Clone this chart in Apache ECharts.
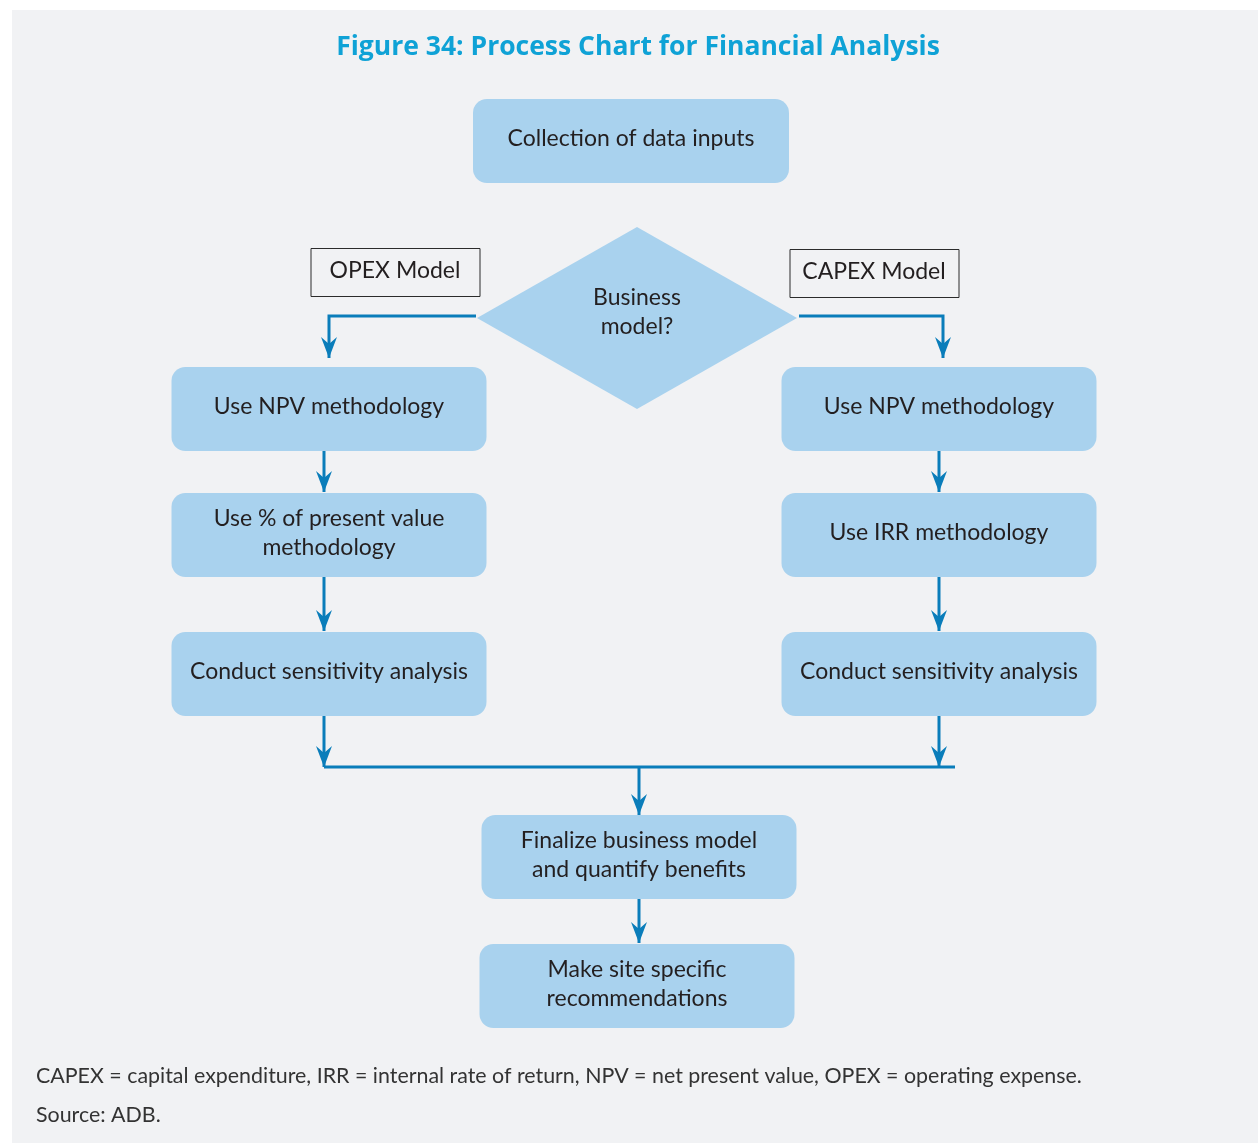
<!DOCTYPE html>
<html>
<head>
<meta charset="utf-8">
<title>Process Chart for Financial Analysis</title>
<script src="https://cdn.jsdelivr.net/npm/echarts@6/dist/echarts.min.js"></script>
<style>
  html, body { margin: 0; padding: 0; background: #ffffff; }
  #main { width: 1258px; height: 1143px; }
</style>
</head>
<body>
<div id="main"></div>
<script>
var myChart = echarts.init(document.getElementById('main'));

// texts of the chart
var figureTitle = 'Figure 34: Process Chart for Financial Analysis';
var stepNames = [
    'Collection of data inputs',
    'Business\nmodel?',
    'Use NPV methodology',
    'Use % of present value\nmethodology',
    'Conduct sensitivity analysis',
    'Use NPV methodology',
    'Use IRR methodology',
    'Conduct sensitivity analysis',
    'Finalize business model\nand quantify benefits',
    'Make site specific\nrecommendations'
];
var branchNames = ['OPEX Model', 'CAPEX Model'];
var footNotes = [
    'CAPEX = capital expenditure, IRR = internal rate of return, NPV = net present value, OPEX = operating expense.',
    'Source: ADB.'
];

// layout on a 1258 x 1143 grid: centre x, centre y, width, height
var stepLayout = [
    [631, 141, 316, 84],
    [637, 318, 320, 182],
    [329, 409, 315, 84],
    [329, 535, 315, 84],
    [329, 674, 315, 84],
    [939, 409, 315, 84],
    [939, 535, 315, 84],
    [939, 674, 315, 84],
    [639, 857, 315, 84],
    [637, 986, 315, 84]
];
var stepShape = ['box', 'diamond', 'box', 'box', 'box', 'box', 'box', 'box', 'box', 'box'];
var branchLayout = [
    [395, 272, 169, 48],
    [874, 273, 169, 48]
];
// connector routes, last point gets an arrow head when arrow is true
var connectorRoutes = [
    { pts: [[476, 316], [329, 316], [329, 358]], arrow: true },
    { pts: [[799, 316], [943, 316], [943, 358]], arrow: true },
    { pts: [[324, 451], [324, 492]], arrow: true },
    { pts: [[324, 577], [324, 631]], arrow: true },
    { pts: [[324, 716], [324, 767]], arrow: true },
    { pts: [[939, 451], [939, 492]], arrow: true },
    { pts: [[939, 577], [939, 631]], arrow: true },
    { pts: [[939, 716], [939, 767]], arrow: true },
    { pts: [[324, 767], [955, 767]], arrow: false },
    { pts: [[639, 767], [639, 815]], arrow: true },
    { pts: [[639, 899], [639, 943]], arrow: true }
];

var boxFill = '#a9d2ee';
var lineColor = '#0a7dba';
var textColor = '#231f20';
var bodyFont = 'Lato, "Open Sans", sans-serif';

function renderStep(params, api) {
    var i = api.value(0);
    var c = api.coord([api.value(1), api.value(2)]);
    var s = api.size([api.value(3), api.value(4)]);
    var shape;
    var ty = c[1] - 2;
    if (stepShape[i] === 'diamond') {
        shape = {
            type: 'polygon',
            shape: { points: [[c[0], c[1] - s[1] / 2], [c[0] + s[0] / 2, c[1]], [c[0], c[1] + s[1] / 2], [c[0] - s[0] / 2, c[1]]] },
            style: { fill: boxFill }
        };
        ty = c[1] - 6;
    } else {
        shape = {
            type: 'rect',
            shape: { x: c[0] - s[0] / 2, y: c[1] - s[1] / 2, width: s[0], height: s[1], r: 14 },
            style: { fill: boxFill }
        };
    }
    return {
        type: 'group',
        children: [shape, {
            type: 'text',
            x: c[0], y: ty,
            style: {
                text: stepNames[i], align: 'center', verticalAlign: 'middle',
                fontFamily: bodyFont, fontSize: 23, lineHeight: 29, fill: textColor
            }
        }]
    };
}

function renderBranch(params, api) {
    var i = api.value(0);
    var c = api.coord([api.value(1), api.value(2)]);
    var s = api.size([api.value(3), api.value(4)]);
    return {
        type: 'group',
        children: [{
            type: 'rect',
            shape: { x: c[0] - s[0] / 2 + 0.5, y: c[1] - s[1] / 2 + 0.5, width: s[0], height: s[1] },
            style: { fill: '#f1f2f4', stroke: '#2b2b2b', lineWidth: 1 }
        }, {
            type: 'text',
            x: c[0], y: c[1] - 1,
            style: {
                text: branchNames[i], align: 'center', verticalAlign: 'middle',
                fontFamily: bodyFont, fontSize: 23, fill: textColor
            }
        }]
    };
}

function renderConnector(params, api) {
    var route = connectorRoutes[api.value(0)];
    var pts = route.pts.map(function (p) { return api.coord(p); });
    var children = [{
        type: 'polyline',
        shape: { points: pts },
        style: { stroke: lineColor, lineWidth: 3, fill: null }
    }];
    if (route.arrow) {
        var tip = pts[pts.length - 1];
        children.push({
            type: 'polygon',
            shape: { points: [[tip[0], tip[1]], [tip[0] - 8, tip[1] - 21], [tip[0], tip[1] - 14], [tip[0] + 8, tip[1] - 21]] },
            style: { fill: lineColor }
        });
    }
    return { type: 'group', children: children };
}

var option = {
    animation: false,
    backgroundColor: '#ffffff',
    grid: { left: 0, right: 0, top: 0, bottom: 0 },
    xAxis: { type: 'value', min: 0, max: 1258, show: false },
    yAxis: { type: 'value', min: 0, max: 1143, inverse: true, show: false },
    graphic: [
        { type: 'rect', left: 12, top: 10, z: -10, shape: { width: 1246, height: 1133 }, style: { fill: '#f1f2f4' } },
        { type: 'text', x: 638, y: 47, z: 10, style: { text: figureTitle, align: 'center', verticalAlign: 'middle', fontFamily: '"Open Sans", sans-serif', fontWeight: 'bold', fontSize: 26.5, fill: '#0fa2d6' } },
        { type: 'text', x: 36, y: 1076, z: 10, style: { text: footNotes[0], align: 'left', verticalAlign: 'middle', fontFamily: bodyFont, fontSize: 21.4, fill: '#333333' } },
        { type: 'text', x: 36, y: 1115, z: 10, style: { text: footNotes[1], align: 'left', verticalAlign: 'middle', fontFamily: bodyFont, fontSize: 21.4, fill: '#333333' } }
    ],
    series: [
        {
            type: 'custom',
            name: 'connectors',
            silent: true,
            renderItem: renderConnector,
            data: connectorRoutes.map(function (r, i) { return [i, r.pts[0][0], r.pts[0][1]]; }),
            encode: { x: 1, y: 2 },
            z: 3
        },
        {
            type: 'custom',
            name: 'steps',
            silent: true,
            renderItem: renderStep,
            data: stepNames.map(function (n, i) { return [i].concat(stepLayout[i]); }),
            encode: { x: 1, y: 2 },
            z: 4
        },
        {
            type: 'custom',
            name: 'branches',
            silent: true,
            renderItem: renderBranch,
            data: branchNames.map(function (n, i) { return [i].concat(branchLayout[i]); }),
            encode: { x: 1, y: 2 },
            z: 4
        }
    ]
};

myChart.setOption(option);
</script>
</body>
</html>
